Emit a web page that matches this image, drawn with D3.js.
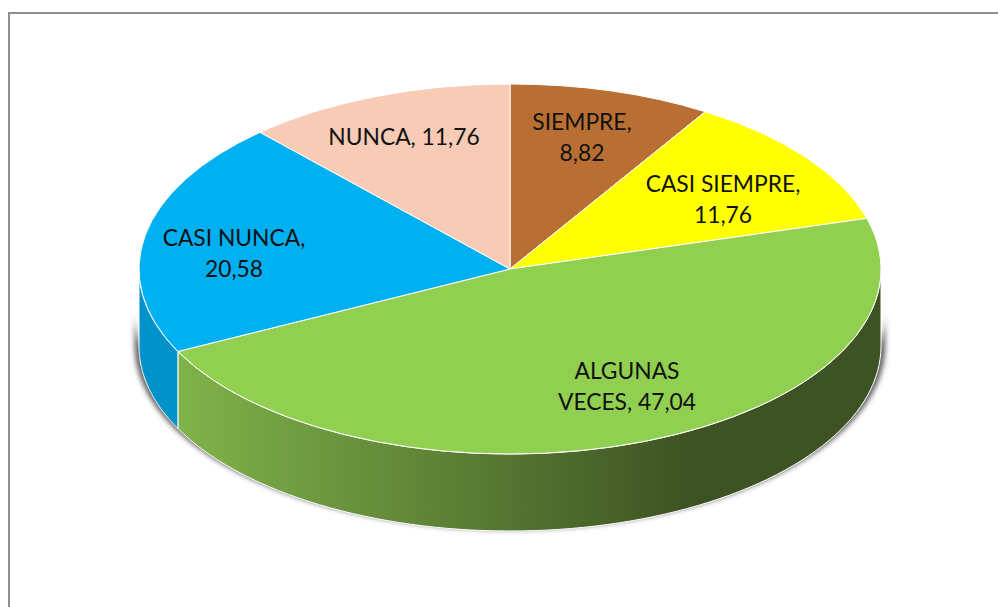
<!DOCTYPE html>
<html>
<head>
<meta charset="utf-8">
<script src="https://cdn.jsdelivr.net/npm/d3@7"></script>
<style>
  html, body { margin: 0; padding: 0; background: #fff; overflow: hidden; }
  text { font-family: Lato, sans-serif; font-size: 22.8px; fill: #111; text-anchor: middle; }
</style>
</head>
<body>
<script>
const categories = ["SIEMPRE", "CASI SIEMPRE", "ALGUNAS VECES", "CASI NUNCA", "NUNCA"];
const values = [8.82, 11.76, 47.04, 20.58, 11.76];
const valueLabels = ["8,82", "11,76", "47,04", "20,58", "11,76"];
const labelLines = [
    ["SIEMPRE,", "8,82"],
    ["CASI SIEMPRE,", "11,76"],
    ["ALGUNAS", "VECES, 47,04"],
    ["CASI NUNCA,", "20,58"],
    ["NUNCA, 11,76"]
];
const topColors = ["#b96f33", "#ffff00", "#90cf50", "#00b0f0", "#f7cbb5"];

const width = 998, height = 607;
const cx = 510, cy = 269, rx = 371, ry = 185, depth = 77;
// label anchor, relative to the pie centre
const labelPos = [[72, -139], [213, -77], [117, 110], [-276, -23], [-106, -124]];

const svg = d3.select("body").append("svg")
    .attr("width", width)
    .attr("height", height);

const defs = svg.append("defs");

const grad = defs.append("linearGradient")
    .attr("id", "greenSide")
    .attr("gradientUnits", "userSpaceOnUse")
    .attr("x1", 177).attr("x2", 690)
    .attr("y1", 0).attr("y2", 0);
grad.append("stop").attr("offset", 0).attr("stop-color", "#80b34a");
grad.append("stop").attr("offset", 1).attr("stop-color", "#3d5323");

defs.append("filter")
    .attr("id", "blur")
    .attr("x", "-10%").attr("y", "-10%")
    .attr("width", "120%").attr("height", "120%")
    .append("feGaussianBlur")
    .attr("stdDeviation", 2.5);

// chart frame, runs off the right and bottom of the picture
svg.append("rect")
    .attr("x", 9).attr("y", 13)
    .attr("width", width + 20).attr("height", height + 20)
    .attr("fill", "#fff")
    .attr("stroke", "#8f8f8f")
    .attr("stroke-width", 2);

const pie = d3.pie().sort(null).value(d => d)(values);

const px = a => cx + rx * Math.sin(a);
const py = a => cy - ry * Math.cos(a);

const wallArea = d3.area()
    .x(px)
    .y0(py)
    .y1(a => py(a) + depth);

// angles along the rim, from a to b
const rim = (a, b) => d3.range(0, 81).map(i => a + (b - a) * i / 80);

// shadow under the wall, starts partway down the side
const shadowArea = d3.area()
    .x(px)
    .y0(a => py(a) + 42)
    .y1(a => py(a) + depth);
svg.append("path")
    .attr("d", shadowArea(rim(Math.PI / 2, Math.PI * 1.5)))
    .attr("transform", `translate(${cx},${cy + 42}) scale(1.012,0.995) translate(${-cx},${-cy - 42})`)
    .attr("fill", "#666")
    .attr("filter", "url(#blur)");

// side walls, only the front half of the rim can be seen
pie.forEach((d, i) => {
    const a = Math.max(d.startAngle, Math.PI / 2);
    const b = Math.min(d.endAngle, Math.PI * 1.5);
    if (a >= b) return;
    svg.append("path")
        .attr("d", wallArea(rim(a, b)) + "Z")
        .attr("fill", i === 2 ? "url(#greenSide)" : "#0092c8")
        .attr("stroke", "#fff")
        .attr("stroke-width", 1);
});

// top face
const arc = d3.arc().innerRadius(0).outerRadius(rx);
svg.append("g")
    .attr("transform", `translate(${cx},${cy}) scale(1,${ry / rx})`)
    .selectAll("path")
    .data(pie)
    .enter()
    .append("path")
    .attr("d", arc)
    .attr("fill", (d, i) => topColors[i])
    .attr("stroke", "#fff")
    .attr("stroke-width", 1)
    .attr("vector-effect", "non-scaling-stroke");

// labels
labelLines.forEach((lines, i) => {
    const t = svg.append("text")
        .attr("x", cx + labelPos[i][0])
        .attr("y", cy + labelPos[i][1]);
    lines.forEach((line, j) => {
        t.append("tspan")
            .attr("x", cx + labelPos[i][0])
            .attr("dy", j === 0 ? 0 : 31)
            .text(line);
    });
});
</script>
</body>
</html>
